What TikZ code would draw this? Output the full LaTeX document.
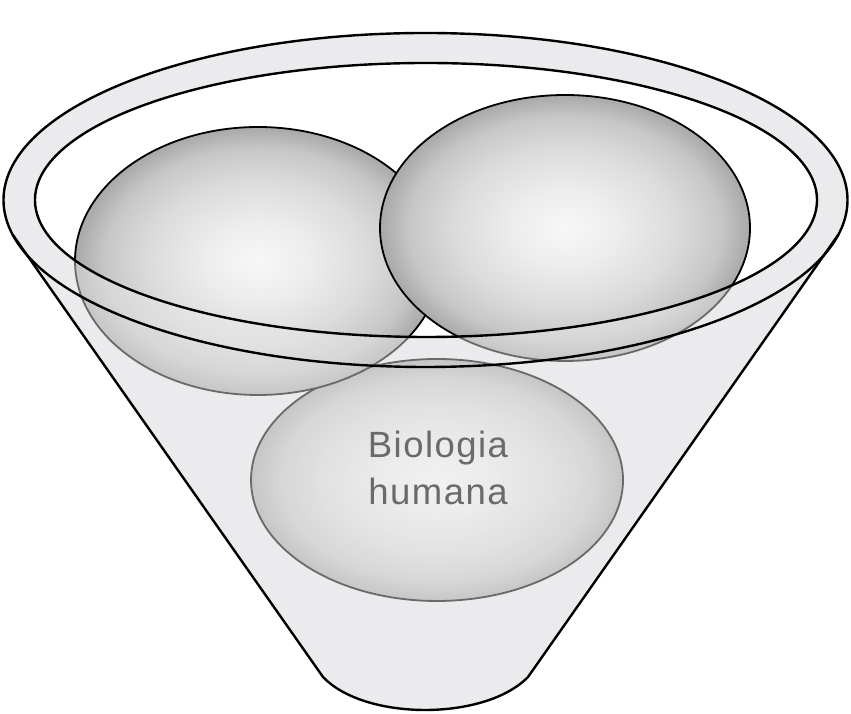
\documentclass[tikz,border=0pt]{standalone}
\usepackage{fontspec}
\newfontfamily\labelfont[LetterSpace=4]{Liberation Sans}
\usetikzlibrary{shapes.geometric}
\definecolor{glass}{RGB}{235,235,237}
\definecolor{labelgray}{RGB}{106,106,108}
\pgfdeclareradialshading{orb}{\pgfpoint{0bp}{0bp}}{color(0bp)=(black!3); color(7bp)=(black!7); color(15bp)=(black!14); color(21bp)=(black!22); color(25bp)=(black!34); color(50bp)=(black!34)}

\begin{document}
\begin{tikzpicture}[x=1pt,y=1pt,
  rim/.style={draw=black,line width=2.4pt,line join=round},
  orbnode/.style={ellipse,shading=orb,draw=black,line width=1.8pt,inner sep=0pt},
  lab/.style={font=\labelfont\fontsize{36.5}{47}\selectfont,text=labelgray,align=center}]
  \useasboundingbox (0,0) rectangle (851,714);
  % bowl corners
  \coordinate (cl) at (12.7,479.3);
  \coordinate (cr) at (838.3,479.3);
  \coordinate (cbl) at (323,37);
  \coordinate (cbr) at (528,37);
  % glass body and opening
  \fill[glass] (cl) arc[start angle=192,end angle=-12,x radius=422,y radius=167]
    -- (cbr) .. controls (485,-7) and (365,-7) .. (cbl) -- cycle;
  \fill[white] (426,514) ellipse[x radius=391,y radius=137];
  % the three balls
  \node[orbnode,minimum width=372,minimum height=242] (bottom) at (437,234) {};
  \node[orbnode,minimum width=366,minimum height=268] (left) at (258,453) {};
  \node[orbnode,minimum width=370,minimum height=266] (right) at (565,486) {};
  % front glass over the balls
  \fill[glass,fill opacity=0.45,even odd rule]
    (cl) arc[start angle=192,end angle=-12,x radius=422,y radius=167]
    -- (cbr) .. controls (485,-7) and (365,-7) .. (cbl) -- cycle
    (426,514) ellipse[x radius=391,y radius=137];
  % rim and sides
  \draw[rim] (425.5,514) ellipse[x radius=422,y radius=167];
  \draw[rim] (426,514) ellipse[x radius=391,y radius=137];
  \draw[rim] (cl) -- (cbl) .. controls (365,-7) and (485,-7) .. (cbr) -- (cr);
  \node[lab] (caption) at (438,246) {Biologia\\humana};
\end{tikzpicture}
\end{document}
